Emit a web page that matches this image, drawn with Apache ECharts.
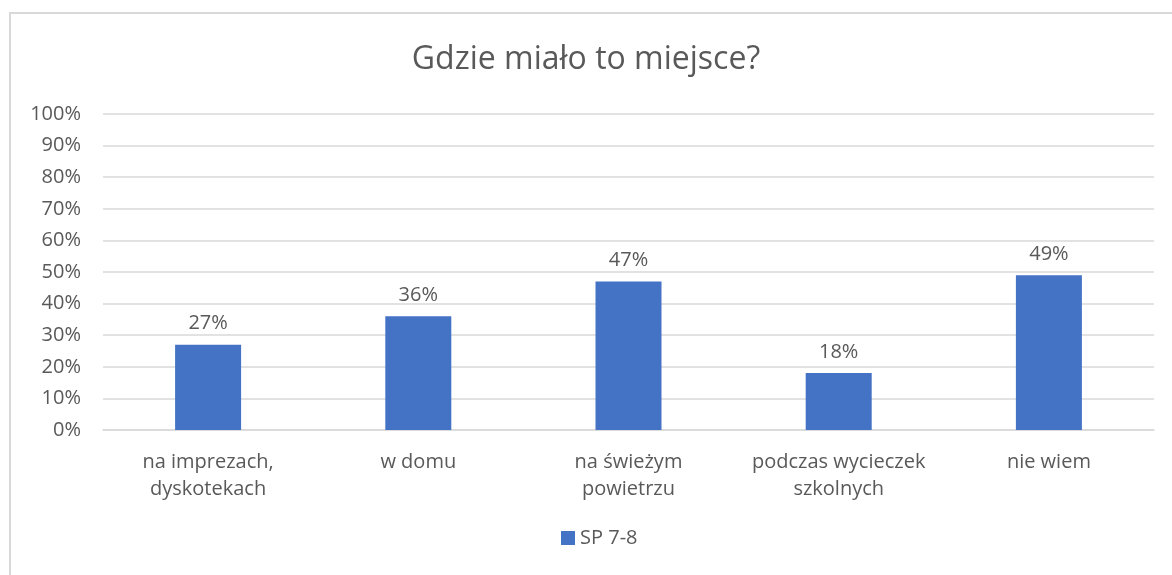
<!DOCTYPE html>
<html>
<head>
<meta charset="utf-8">
<script src="https://cdn.jsdelivr.net/npm/echarts@6/dist/echarts.min.js"></script>
<style>
  html, body { margin: 0; padding: 0; background: #fff; }
  #frame {
    position: absolute; left: 9px; top: 12px; width: 1170px; height: 600px;
    border: 2px solid #d9d9d9; box-sizing: border-box; background: #fff;
  }
  /* chart canvas aligned to page coordinates inside the bordered frame */
  #chart { position: absolute; left: -11px; top: -14px; width: 1172px; height: 575px; }
</style>
</head>
<body>
<div id="frame"><div id="chart"></div></div>
<script>
const titleText = 'Gdzie miało to miejsce?';
const categories = ['na imprezach,\ndyskotekach', 'w domu', 'na świeżym\npowietrzu', 'podczas wycieczek\nszkolnych', 'nie wiem'];
const seriesName = 'SP 7-8';
const values = [27, 36, 47, 18, 49];
const yTicks = [0, 10, 20, 30, 40, 50, 60, 70, 80, 90, 100];

const font = '"Open Sans", "Liberation Sans", sans-serif';
const textColor = '#595959';

const chart = echarts.init(document.getElementById('chart'));
chart.setOption({
  animation: false,
  textStyle: { fontFamily: font },
  title: {
    text: titleText,
    left: 'center',
    top: 39,
    textStyle: { fontFamily: font, fontSize: 32, fontWeight: 'normal', color: textColor }
  },
  legend: {
    bottom: 22,
    left: 556,
    itemWidth: 14,
    itemHeight: 14,
    itemGap: 6,
    icon: 'rect',
    textStyle: { fontFamily: font, fontSize: 20, color: textColor },
    data: [seriesName]
  },
  grid: { left: 103, right: 18, top: 114, bottom: 145, containLabel: false },
  xAxis: {
    type: 'category',
    data: categories,
    axisLine: { show: true, lineStyle: { color: '#d9d9d9', width: 1.5 } },
    axisTick: { show: false },
    axisLabel: { color: textColor, fontSize: 20, fontFamily: font, lineHeight: 27, margin: 19, interval: 0 }
  },
  yAxis: {
    type: 'value',
    min: yTicks[0],
    max: yTicks[yTicks.length - 1],
    interval: 10,
    axisLine: { show: false },
    axisTick: { show: false },
    splitLine: { lineStyle: { color: '#d9d9d9', width: 1.5 } },
    axisLabel: { color: textColor, fontSize: 20, fontFamily: font, margin: 22, formatter: v => v + '%' }
  },
  series: [{
    name: seriesName,
    type: 'bar',
    data: values,
    barWidth: '31.4%',
    itemStyle: { color: '#4472c4' },
    label: {
      show: true,
      position: 'top',
      distance: 11,
      color: textColor,
      fontSize: 20,
      fontFamily: font,
      formatter: p => p.value + '%'
    }
  }]
});
</script>
</body>
</html>
